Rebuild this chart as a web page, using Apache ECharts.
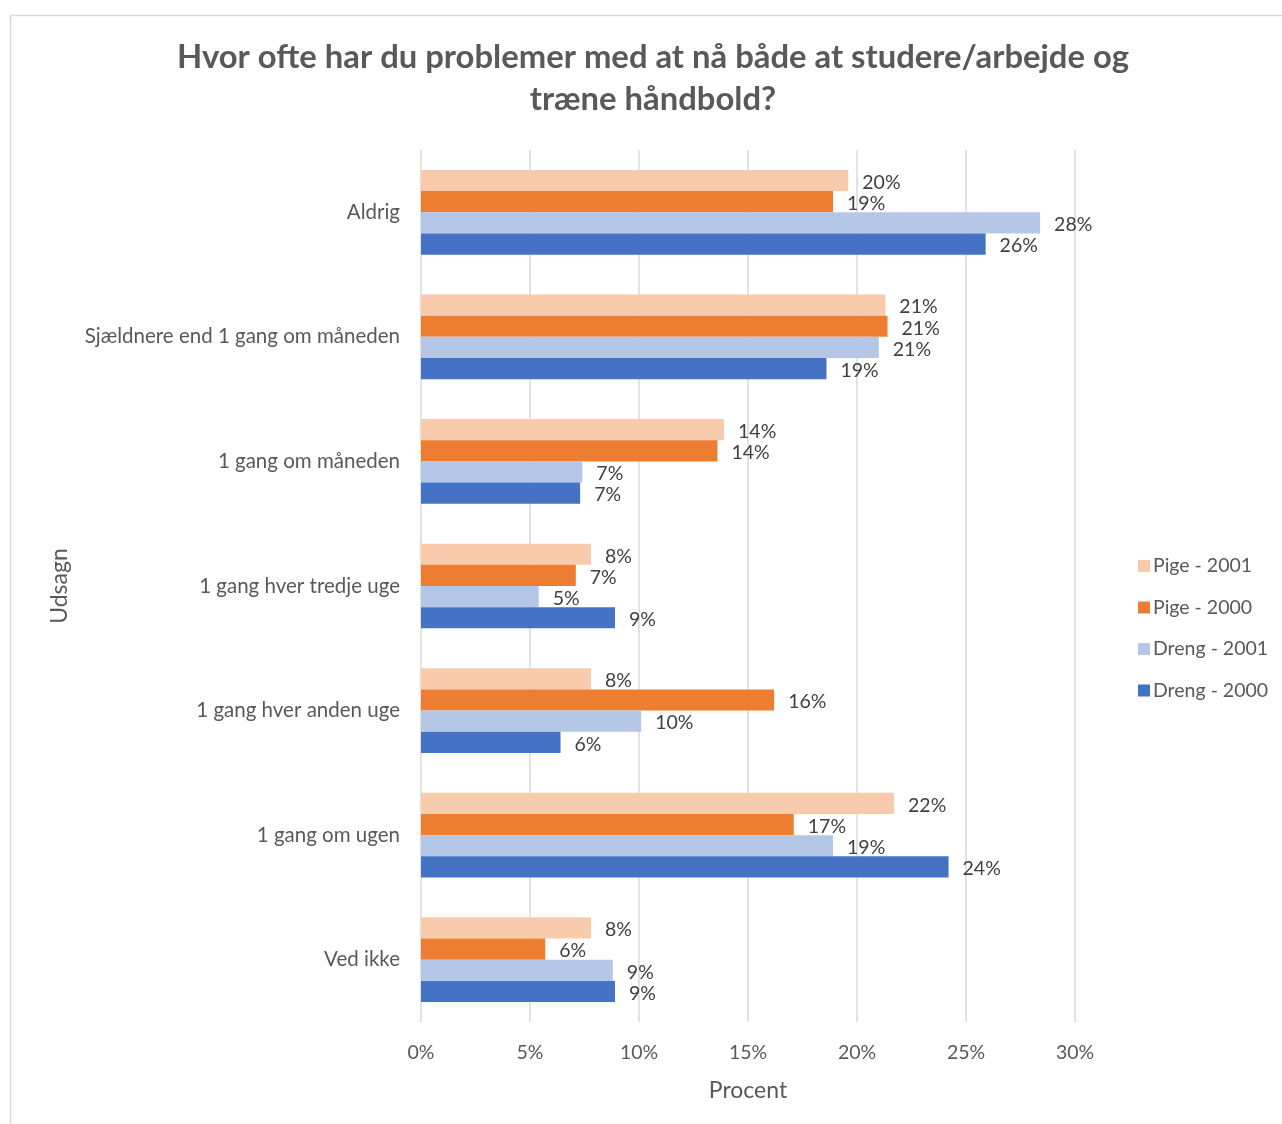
<!DOCTYPE html>
<html>
<head>
<meta charset="utf-8">
<script src="https://cdn.jsdelivr.net/npm/echarts@6/dist/echarts.min.js"></script>
<style>
  html, body { margin: 0; padding: 0; background: #ffffff; }
  #chart { width: 1282px; height: 1124px; }
</style>
</head>
<body>
<div id="chart"></div>
<script>
// Survey answers (percent of respondents) per answer category
const categories = [
  'Aldrig',
  'Sjældnere end 1 gang om måneden',
  '1 gang om måneden',
  '1 gang hver tredje uge',
  '1 gang hver anden uge',
  '1 gang om ugen',
  'Ved ikke'
];
const seriesNames = ['Pige - 2001', 'Pige - 2000', 'Dreng - 2001', 'Dreng - 2000'];
const pige2001  = [19.6, 21.3, 13.9, 7.8, 7.8, 21.7, 7.8];
const pige2000  = [18.9, 21.4, 13.6, 7.1, 16.2, 17.1, 5.7];
const dreng2001 = [28.4, 21.0, 7.4, 5.4, 10.1, 18.9, 8.8];
const dreng2000 = [25.9, 18.6, 7.3, 8.9, 6.4, 24.2, 8.9];
const xTicks = [0, 5, 10, 15, 20, 25, 30];

const colors = ['#F8CBAD', '#ED7D31', '#B4C7E7', '#4472C4'];
const FONT = 'Lato, "Open Sans", sans-serif';

const chart = echarts.init(document.getElementById('chart'), null, { renderer: 'canvas' });

function makeSeries(name, values, color) {
  return {
    name: name,
    type: 'bar',
    data: values,
    barGap: '0%',
    barCategoryGap: '32%',
    itemStyle: { color: color },
    label: {
      show: true,
      position: 'right',
      distance: 14,
      offset: [0, 2],
      formatter: p => Math.round(p.value) + '%',
      color: '#404040',
      fontFamily: FONT,
      fontSize: 19.5
    },
    emphasis: { disabled: true }
  };
}

chart.setOption({
  animation: false,
  textStyle: { fontFamily: FONT },
  graphic: [
    {
      type: 'rect',
      shape: { x: 10.5, y: 15.5, width: 1400, height: 1300 },
      style: { fill: 'none', stroke: '#d9d9d9', lineWidth: 1.5 },
      silent: true
    },
    {
      type: 'text',
      x: 653,
      y: 78,
      style: {
        text: 'Hvor ofte har du problemer med at nå både at studere/arbejde og\ntræne håndbold?',
        align: 'center',
        verticalAlign: 'middle',
        fontFamily: FONT,
        fontWeight: 'bold',
        fontSize: 32.8,
        lineHeight: 42,
        fill: '#595959'
      }
    }
  ],
  legend: {
    orient: 'vertical',
    left: 1133,
    top: 551,
    itemWidth: 12,
    itemHeight: 12,
    itemGap: 21.5,
    icon: 'rect',
    data: seriesNames,
    textStyle: { color: '#595959', fontSize: 19.5, lineHeight: 20, fontFamily: FONT, padding: [0, 0, 0, -2] }
  },
  grid: { left: 421, right: 207, top: 150, bottom: 102, containLabel: false },
  xAxis: {
    type: 'value',
    min: xTicks[0],
    max: xTicks[xTicks.length - 1],
    interval: 5,
    name: 'Procent',
    nameLocation: 'middle',
    nameGap: 57,
    nameTextStyle: { color: '#595959', fontSize: 23, fontFamily: FONT },
    axisLine: { show: false },
    axisTick: { show: false },
    axisLabel: {
      formatter: '{value}%',
      color: '#595959',
      fontSize: 19.5,
      margin: 21,
      fontFamily: FONT
    },
    splitLine: { show: true, lineStyle: { color: '#d9d9d9', width: 1.5 } }
  },
  yAxis: {
    type: 'category',
    data: categories,
    inverse: true,
    name: 'Udsagn',
    nameLocation: 'middle',
    nameGap: 350,
    nameRotate: 90,
    nameTextStyle: { color: '#595959', fontSize: 23, fontFamily: FONT },
    axisLine: { show: false },
    axisTick: { show: false },
    axisLabel: { color: '#595959', fontSize: 20.5, margin: 21, fontFamily: FONT },
    splitLine: { show: false }
  },
  series: [
    makeSeries(seriesNames[0], pige2001, colors[0]),
    makeSeries(seriesNames[1], pige2000, colors[1]),
    makeSeries(seriesNames[2], dreng2001, colors[2]),
    makeSeries(seriesNames[3], dreng2000, colors[3])
  ]
});
</script>
</body>
</html>
